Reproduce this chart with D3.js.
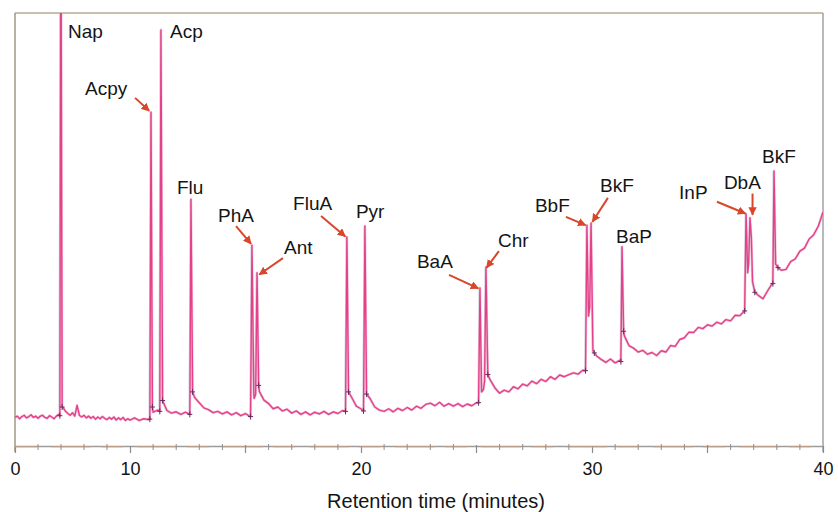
<!DOCTYPE html>
<html><head><meta charset="utf-8">
<script src="https://cdn.jsdelivr.net/npm/d3@7"></script>
<style>
body{margin:0;background:#fff}
svg{display:block}
text{font-family:"Liberation Sans",Arial,Helvetica,sans-serif;fill:#141414}
</style>
</head><body>
<svg id="chart" width="838" height="512"></svg>
<script>
// ---------------- DATA ----------------
// Retention-time axis ticks as printed on the reference
const tickValues = [0, 10, 20, 30, 40];
const tickLabels = ["0", "10", "20", "30", "40"];
const majorUnlabeled = [15, 25, 35];
const minorTicks = [2, 4, 6, 8, 11, 12, 13, 14, 16, 17, 18, 19, 21, 22, 23, 24, 26, 27, 28, 29, 31, 32, 33, 34, 36, 37, 38, 39];
const axisTitle = "Retention time (minutes)";

// Baseline signal sampled every 0.2 min from 0 to 40 min (detector units)
const baselineStep = 0.2;
const baselineValues = [
  6.6, 6.9, 6.3, 6.8, 7.1, 6.5, 6.8, 7.2, 6.6, 6.9,
  6.4, 6.9, 7.1, 6.6, 6.4, 7.0, 6.7, 6.3, 6.9, 7.3,
  7.5, 8.8, 8.0, 7.5, 7.1, 7.7, 6.9, 9.4, 7.1, 6.7,
  7.1, 6.5, 6.9, 6.4, 6.8, 6.2, 6.7, 6.3, 6.8, 6.4,
  6.1, 6.6, 6.2, 6.7, 6.0, 6.5, 6.1, 6.6, 5.9, 6.3,
  6.0, 6.5, 5.9, 6.3, 6.1, 7.8, 8.3, 9.9, 8.2, 7.6,
  7.9, 7.3, 7.8, 7.2, 11.2, 10.0, 8.8, 8.4, 7.7, 8.0,
  7.4, 7.9, 7.2, 7.7, 7.0, 7.5, 6.8, 9.0, 12.6, 10.6,
  9.8, 8.6, 9.0, 8.1, 8.5, 7.6, 8.1, 7.3, 7.9, 7.2,
  7.8, 7.4, 8.0, 7.3, 7.9, 7.5, 8.2, 8.0, 11.2, 9.2,
  8.6, 8.0, 10.9, 9.0, 8.3, 8.0, 8.6, 7.9, 8.7, 8.2,
  8.9, 8.3, 9.2, 8.7, 9.6, 9.9, 9.3, 10.1, 9.2, 9.8,
  9.2, 9.8, 9.1, 9.7, 9.3, 10.0, 12.0, 14.5, 15.2, 13.4,
  12.2, 12.9, 12.5, 13.7, 13.2, 14.3, 13.9, 15.0, 14.4, 15.4,
  14.9, 16.0, 15.4, 16.4, 16.0, 16.5, 16.9, 16.6, 17.5, 19.0,
  22.0, 20.8, 20.0, 19.3, 20.1, 19.2, 19.8, 25.5, 23.2, 22.6,
  21.7, 22.1, 21.2, 21.6, 20.9, 22.0, 21.7, 23.2, 23.0, 24.6,
  25.0, 26.3, 26.2, 27.4, 27.1, 28.0, 27.7, 28.6, 28.2, 29.2,
  28.9, 30.2, 30.1, 31.2, 40.0, 36.0, 34.8, 34.0, 35.8, 37.5,
  42.5, 40.6, 40.8, 42.6, 43.2, 45.0, 45.7, 47.8, 48.8, 50.8,
  54.0
];

// Peak outlines: [time (min), signal] key points (start, apex(es), end)
const peakGroups = [
  [[3.90, 7.0], [3.99, 130], [4.10, 9.0]],                                   // Nap
  [[10.86, 6.2], [10.91, 77.1], [10.97, 9.0]],                               // Acpy
  [[11.29, 8.0], [11.34, 96.1], [11.41, 10.5]],                              // Acp
  [[12.59, 7.3], [12.64, 57.0], [12.71, 12.5]],                              // Flu
  [[15.22, 6.8], [15.28, 46.4], [15.36, 12.0], [15.38, 11.0], [15.44, 12.0], [15.50, 40.0], [15.57, 14.0]], // PhA, Ant
  [[19.33, 8.0], [19.39, 48.3], [19.46, 12.5]],                              // FluA
  [[20.11, 8.1], [20.17, 50.8], [20.24, 12.0]],                              // Pyr
  [[25.09, 10.0], [25.15, 36.5], [25.22, 12.5], [25.30, 13.0], [25.35, 15.0], [25.41, 41.3], [25.49, 16.5]], // BaA, Chr
  [[29.72, 17.4], [29.78, 51.0], [29.85, 30.0], [29.90, 32.0], [29.96, 51.5], [30.04, 22.0], [30.10, 21.5]], // BbF, BkF
  [[31.25, 19.5], [31.30, 46.0], [31.37, 26.5]],                             // BaP
  [[36.61, 31.2], [36.67, 53.6], [36.74, 40.0], [36.78, 42.0], [36.84, 52.7], [36.90, 48.0], [36.95, 38.0], [37.05, 35.5]], // InP, DbA
  [[37.83, 37.5], [37.88, 63.5], [37.95, 42.0], [38.05, 41.2]]               // BkF
];

// Peak labels: name, label anchor [time, signal], optional arrow [from, to]
const labelNames = ["Nap", "Acp", "Acpy", "Flu", "PhA", "Ant", "FluA", "Pyr", "BaA", "Chr", "BbF", "BkF", "BaP", "InP", "DbA", "BkF"];
const labelAnchors = [
  [4.61, 94.2], [11.73, 94.2], [6.09, 81.1], [12.03, 58.2], [13.81, 51.7], [16.67, 44.3],
  [17.06, 54.5], [19.78, 52.7], [22.42, 41.1], [25.93, 46.0], [27.53, 54.0], [30.35, 58.7],
  [31.04, 46.9], [33.77, 57.0], [35.71, 59.4], [37.36, 65.4]
];
const labelArrows = [
  null, null,
  [[10.22, 80.4], [10.83, 77.4]],
  null,
  [[14.59, 50.8], [15.24, 46.7]],
  [[16.62, 43.4], [15.60, 39.6]],
  [[18.27, 53.1], [19.32, 48.4]],
  null,
  [[23.81, 39.5], [25.08, 36.4]],
  [[25.97, 45.0], [25.44, 41.2]],
  [[28.87, 52.9], [29.72, 51.0]],
  [[30.69, 57.3], [30.02, 51.8]],
  null,
  [[35.41, 56.4], [36.64, 53.7]],
  [[36.95, 58.3], [36.95, 53.4]],
  null
];

// ---------------- DRAWING ----------------
const svg = d3.select("#chart");
const x = d3.scaleLinear().domain([0, 10, 40]).range([15, 130, 823]);
const y = d3.scaleLinear().domain([0, 100]).range([446, 13]);

// build trace
const eps = 1e-6;
const basePts = baselineValues.map((v, i) => [i * baselineStep, v])
  .filter(([t]) => !peakGroups.some(g => t > g[0][0] - eps && t < g[g.length - 1][0] + eps));
const trace = basePts.concat(...peakGroups).sort((a, b) => a[0] - b[0]);

svg.append("defs").append("clipPath").attr("id", "plot")
  .append("rect").attr("x", x(0)).attr("y", y(100)).attr("width", x(40) - x(0)).attr("height", y(0) - y(100));

const marker = svg.select("defs").append("marker")
  .attr("id", "arr").attr("viewBox", "0 0 10 10").attr("refX", 9).attr("refY", 5)
  .attr("markerWidth", 4.2).attr("markerHeight", 4.2).attr("orient", "auto")
  .attr("markerUnits", "strokeWidth");
marker.append("path").attr("d", "M0,0 L10,5 L0,10 Z").attr("fill", "#d8472a");

// frame
svg.append("line").attr("x1", x(0)).attr("x2", x(40)).attr("y1", y(100)).attr("y2", y(100))
  .attr("stroke", "#b9a892").attr("stroke-width", 1.5);
svg.append("line").attr("x1", x(0)).attr("x2", x(0)).attr("y1", y(100)).attr("y2", y(0) + 6)
  .attr("stroke", "#a69686").attr("stroke-width", 1.5);
svg.append("line").attr("x1", x(40)).attr("x2", x(40)).attr("y1", y(100)).attr("y2", y(0) + 6)
  .attr("stroke", "#a2a2a2").attr("stroke-width", 1.5);

// bottom axis
const axisG = svg.append("g").attr("transform", `translate(0,${y(0)})`)
  .call(d3.axisBottom(x).tickValues(tickValues).tickSizeInner(7).tickSizeOuter(0)
    .tickPadding(9).tickFormat((d, i) => tickLabels[i]));
axisG.select(".domain").attr("stroke", "#9c9c9c").attr("stroke-width", 1.5);
axisG.selectAll(".tick line").attr("stroke", "#8a8a8a").attr("stroke-width", 1.2);
axisG.selectAll(".tick text").style("font-size", "18px").attr("fill", "#141414");
svg.append("line").attr("x1", x(0)).attr("x2", x(40)).attr("y1", y(0) + 1).attr("y2", y(0) + 1)
  .attr("stroke", "#f2a36a").attr("stroke-width", 1).attr("stroke-dasharray", "22,14,40,10")
  .attr("opacity", 0.7);
svg.append("g").selectAll("line").data(majorUnlabeled).join("line")
  .attr("x1", d => x(d)).attr("x2", d => x(d)).attr("y1", y(0) - 1).attr("y2", y(0) + 7)
  .attr("stroke", "#8a8a8a").attr("stroke-width", 1.2);
svg.append("g").selectAll("line").data(minorTicks).join("line")
  .attr("x1", d => x(d)).attr("x2", d => x(d)).attr("y1", y(0) - 2).attr("y2", y(0) + 4)
  .attr("stroke", "#8f8f8f").attr("stroke-width", 1);

svg.append("text").attr("x", 436).attr("y", 508).attr("text-anchor", "middle")
  .style("font-size", "20px").text(axisTitle);

// trace
const line = d3.line().x(d => x(d[0])).y(d => y(d[1]));
const plot = svg.append("g").attr("clip-path", "url(#plot)");
plot.append("path").datum(trace).attr("d", line).attr("fill", "none")
  .attr("stroke", "#3fd3e6").attr("stroke-width", 1).attr("opacity", 0.3)
  .attr("transform", "translate(-0.8,0.6)");
plot.append("path").datum(trace).attr("d", line).attr("fill", "none")
  .attr("stroke", "#f4a3c2").attr("stroke-width", 2.6).attr("stroke-linejoin", "round").attr("opacity", 0.6);
plot.append("path").datum(trace).attr("d", line).attr("fill", "none")
  .attr("stroke", "#e3418a").attr("stroke-width", 1.4).attr("stroke-linejoin", "round");

// integration marks at peak starts / ends
const marks = peakGroups.flatMap(g => [g[0], g[g.length - 1]]);
const mg = plot.append("g").attr("stroke", "#6a2c64").attr("stroke-width", 1);
mg.selectAll("path").data(marks).join("path")
  .attr("d", d => `M${x(d[0]) - 2.5},${y(d[1])}h5M${x(d[0])},${y(d[1]) - 3}v6`);

// labels and arrows
svg.append("g").selectAll("line").data(labelArrows.filter(a => a)).join("line")
  .attr("x1", d => x(d[0][0])).attr("y1", d => y(d[0][1]))
  .attr("x2", d => x(d[1][0])).attr("y2", d => y(d[1][1]))
  .attr("stroke", "#d8472a").attr("stroke-width", 2).attr("marker-end", "url(#arr)");
svg.append("g").selectAll("text").data(labelNames).join("text")
  .attr("x", (d, i) => x(labelAnchors[i][0])).attr("y", (d, i) => y(labelAnchors[i][1]))
  .style("font-size", "19px").text(d => d);
</script>
</body></html>
